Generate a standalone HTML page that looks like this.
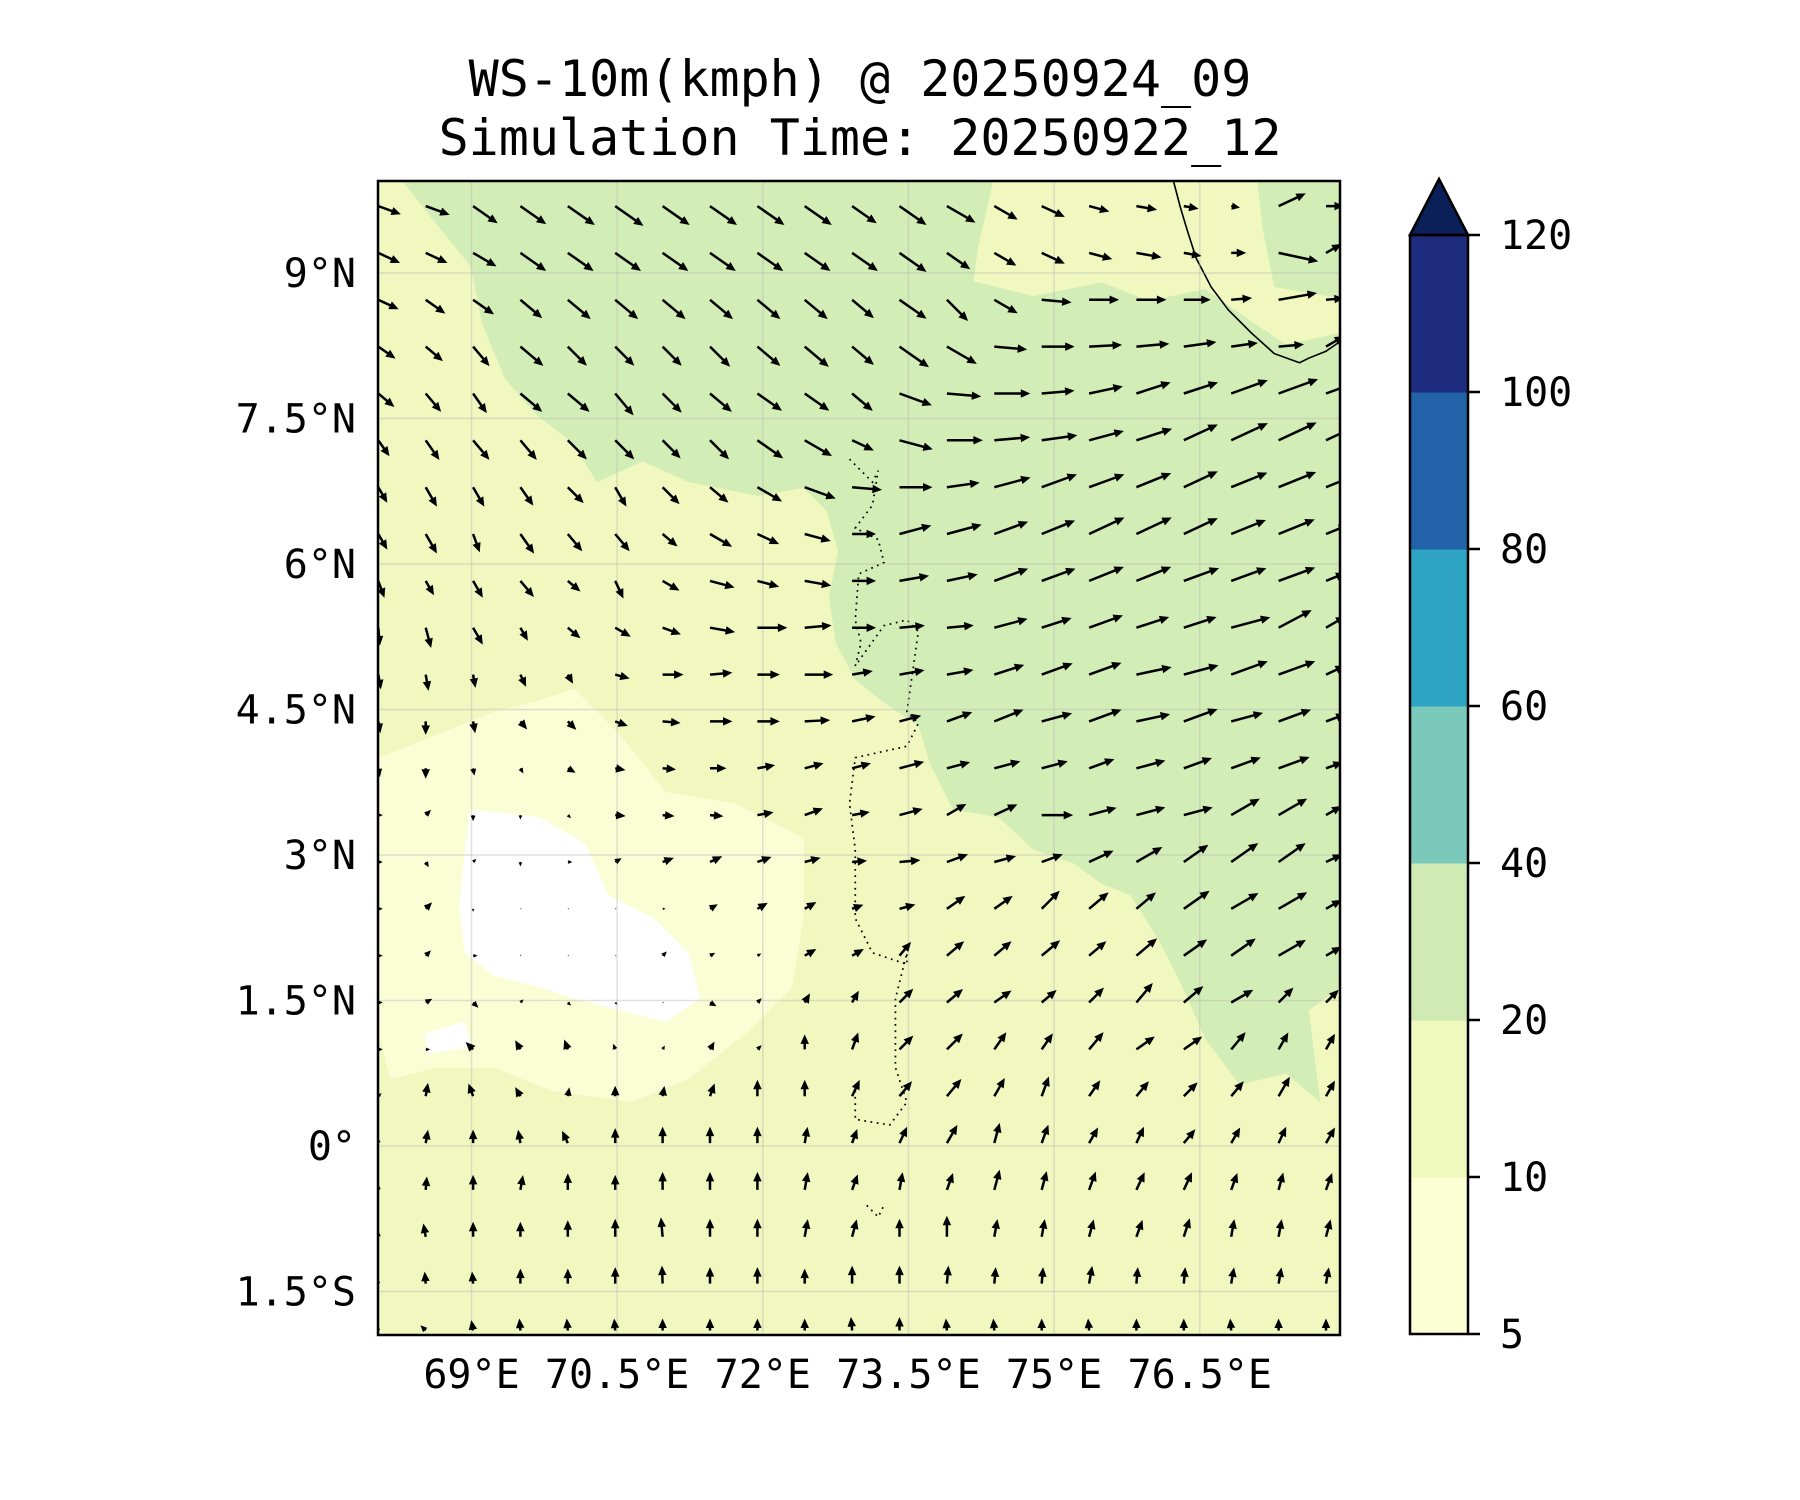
<!DOCTYPE html>
<html><head><meta charset="utf-8"><style>
html,body{margin:0;padding:0;background:#fff}
svg{display:block}
text{font-family:"DejaVu Sans Mono","Liberation Mono",monospace;fill:#000}
</style></head><body>
<svg id="chart" width="1800" height="1500" viewBox="0 0 1800 1500" xmlns="http://www.w3.org/2000/svg">
<defs><clipPath id="pc"><rect x="378" y="181" width="962" height="1154"/></clipPath></defs>
<text x="860" y="96" font-size="50" text-anchor="middle">WS-10m(kmph) @ 20250924_09</text>
<text x="860" y="155" font-size="50" text-anchor="middle">Simulation Time: 20250922_12</text>
<g clip-path="url(#pc)">
 <rect x="378" y="181" width="962" height="1154" fill="#f0f8bf"/>
 <g transform="scale(1.148)">
  <path fill="#d2edb5" d="M350,157 L865,157 L858,190 L852,215 L848,245 L900,258 L960,246 L1000,262 L1050,252 L1090,280 L1120,300 L1168,290 L1168,860 L1140,880 L1150,960 L1120,935 L1080,945 L1050,905 L1030,860 L1010,820 L985,780 L960,770 L935,752 L900,740 L870,712 L830,705 L810,665 L800,632 L770,612 L745,592 L728,560 L722,520 L730,480 L720,445 L700,425 L660,432 L600,420 L560,402 L520,420 L498,385 L468,362 L440,330 L420,282 L410,232 L380,195 Z"/>
  <path fill="#d2edb5" d="M1095,157 L1168,157 L1168,260 L1110,250 L1100,200 Z"/>
  <path fill="#fafed5" d="M330,660 L380,640 L430,620 L470,610 L500,600 L540,640 L580,690 L640,700 L700,730 L700,800 L690,860 L650,900 L600,940 L550,960 L480,950 L430,930 L380,930 L340,940 L330,900 Z"/>
  <path fill="#ffffff" d="M410,705 L470,712 L510,735 L530,780 L570,800 L600,830 L610,870 L580,890 L540,880 L500,870 L470,860 L430,850 L405,830 L400,790 L405,740 Z"/>
  <path fill="#ffffff" d="M370,900 L405,890 L410,912 L372,918 Z"/>
  <path fill="none" stroke="#000" stroke-width="1.4" d="M1022,157 L1028,180 L1034,200 L1042,225 L1055,250 L1070,270 L1090,290 L1110,308 L1132,316 L1140,312 L1155,306 L1168,297"/>
  <path fill="none" stroke="#000" stroke-width="1.5" stroke-dasharray="1.5 4" d="M740,400 L760,420 L765,410 L760,440 L745,460 L765,470 L770,490 L748,500 L745,540 L750,560 L745,580 L770,545 L790,540 L800,550 L790,620 L800,630 L790,650 L745,660 L740,700 L745,740 L745,800 L760,830 L790,840 L790,830 L780,870 L780,930 L790,960 L775,980 L745,975 L745,950 M755,1050 L765,1060 L770,1050"/>
 </g>
 <g id="grid" stroke="#bbb" stroke-opacity="0.45" stroke-width="1.5"></g>
 <g id="arrows"></g>
</g>
<rect x="378" y="181" width="962" height="1154" fill="none" stroke="#000" stroke-width="2.5"/>
<g id="xlabels"></g>
<g id="ylabels"></g>
<g id="cbar"></g>
</svg>
<script>
const lonTicks=[69,70.5,72,73.5,75,76.5];
const lonLabels=["69°E","70.5°E","72°E","73.5°E","75°E","76.5°E"];
const latTicks=[9,7.5,6,4.5,3,1.5,0,-1.5];
const latLabels=["9°N","7.5°N","6°N","4.5°N","3°N","1.5°N","0°","1.5°S"];
const levels=[5,10,20,40,60,80,100,120];
const levelColors=["#fcfed3","#eff8bd","#cfeab3","#7bc9bb","#2fa3c4","#2262a8","#1d2c7e"];
const extendColor="#0b1f58";
const D=[
[-20,-20,-35,-35,-35,-35,-35,-35,-35,-35,-35,-35,-30,-30,-25,-15,-10,-10,-10,25,0],
[-25,-25,-30,-35,-35,-35,-35,-35,-35,-35,-35,-35,-35,-30,-25,-15,-10,-10,0,-12,30],
[-25,-35,-35,-40,-40,-40,-40,-40,-40,-40,-40,-35,-45,-30,-5,0,0,0,5,10,5],
[-35,-40,-50,-40,-45,-45,-45,-45,-40,-40,-40,-35,-30,-5,0,3,5,8,8,5,30],
[-40,-50,-55,-40,-40,-50,-45,-40,-35,-35,-40,-20,-5,0,5,12,18,18,20,20,20],
[-55,-55,-50,-50,-45,-45,-45,-45,-35,-30,-25,-15,0,5,8,15,18,25,25,25,25],
[-60,-60,-60,-55,-45,-60,-45,-40,-30,-20,-5,0,8,15,20,20,22,25,22,22,22],
[-60,-60,-70,-55,-50,-50,-40,-30,-25,-15,0,15,15,20,22,25,25,25,22,22,22],
[-70,-60,-60,-50,-40,-65,-30,-15,-15,-10,0,10,12,20,20,22,22,20,20,20,22],
[-85,-75,-60,-60,-40,-30,-20,-10,0,5,0,5,5,15,18,20,18,18,15,28,30],
[-80,-80,-80,-65,-60,-15,0,5,0,0,10,10,10,18,20,20,12,15,20,20,25],
[-80,-90,-80,-50,-45,-20,-5,0,0,3,12,15,20,22,15,20,12,20,15,20,20],
[-80,-90,-80,-60,-30,-10,-5,0,10,15,15,15,15,15,15,20,15,20,20,20,20],
[0,45,-90,-90,-45,-5,-5,-5,10,20,10,15,30,25,0,15,15,15,30,30,30],
[0,-60,45,-90,0,30,20,25,20,15,5,5,20,15,20,25,30,35,35,35,25],
[0,45,-90,0,0,0,0,30,30,30,20,15,35,35,45,40,40,35,30,30,30],
[0,45,0,45,0,0,45,30,30,30,30,50,40,40,40,40,40,35,35,30,30],
[0,30,-45,45,-45,-45,0,-30,45,60,60,45,40,35,40,45,50,40,30,45,45],
[0,0,135,120,110,110,60,60,45,90,70,45,45,55,55,50,35,35,50,60,60],
[45,80,110,120,80,90,80,70,90,90,65,50,50,60,70,55,50,45,50,60,60],
[100,80,90,100,115,90,90,90,90,80,70,65,60,75,70,60,65,50,60,65,60],
[90,85,90,80,90,90,90,90,90,80,70,80,70,75,75,70,65,65,70,75,70],
[90,100,90,90,90,90,95,90,90,80,75,90,90,80,80,75,70,72,80,80,75],
[90,95,95,90,90,90,92,90,90,90,90,90,85,85,85,80,85,85,80,80,80],
[90,135,100,95,95,95,90,90,90,90,95,90,95,95,90,95,90,90,95,90,90]];
const S=[
[16,17,20,21,22,23,22,22,22,22,20,22,22,18,17,14,14,10,6,20,12],
[16,16,18,21,21,21,21,21,21,21,21,22,19,17,17,16,17,12,10,27,12],
[15,16,17,19,20,20,20,20,20,20,19,22,20,18,20,20,20,18,14,26,12],
[14,15,17,20,18,18,18,19,20,21,19,24,23,22,22,22,22,22,18,17,14],
[14,16,16,19,19,19,18,19,20,20,18,23,23,24,22,23,24,24,26,28,18],
[13,16,17,17,18,18,17,18,21,21,16,23,24,24,24,24,25,25,27,28,18],
[12,15,15,15,15,15,16,16,19,22,20,22,22,25,25,25,25,25,26,27,18],
[12,15,13,16,15,15,13,17,16,18,16,22,24,24,24,26,26,25,25,26,16],
[12,11,13,14,11,13,13,17,15,18,16,20,21,24,24,25,25,25,25,26,14],
[12,14,13,10,11,12,13,17,20,18,16,17,18,23,21,24,23,23,27,25,15],
[10,11,9,9,7,10,14,15,15,19,14,17,18,21,22,23,24,24,26,26,14],
[8,9,8,7,8,9,12,15,15,17,16,15,18,21,21,23,23,24,22,23,14],
[6,7,5,4,6,7,9,11,12,13,13,17,16,18,18,18,20,20,21,22,12],
[3,5,4,3,3,7,8,9,11,13,12,16,15,17,21,19,20,20,22,22,12],
[3,4,3,3,3,5,8,9,10,11,10,14,15,15,15,18,20,20,22,22,12],
[3,6,2,1,1,1,2,6,8,9,8,11,15,15,17,17,17,21,21,22,12],
[3,5,3,1,1,1,4,4,3,9,9,12,15,15,16,15,18,19,20,21,12],
[3,5,5,3,3,2,1,5,4,7,9,13,14,14,13,14,17,17,17,14,12],
[3,3,7,7,7,4,3,6,4,10,12,13,15,14,13,15,15,15,15,13,12],
[3,9,9,7,6,7,7,9,11,11,12,13,15,14,14,13,13,13,13,15,12],
[4,9,9,9,9,10,11,11,11,11,10,12,14,14,13,12,12,12,12,12,12],
[4,9,10,10,11,10,12,12,12,12,11,12,12,14,13,13,13,13,12,12,12],
[4,9,10,10,11,12,13,12,12,12,12,12,14,12,12,12,12,13,12,12,12],
[3,8,8,10,10,11,12,11,11,10,12,12,12,11,11,12,11,11,11,11,11],
[3,5,7,8,8,8,8,8,8,8,9,9,8,8,8,8,8,8,8,8,8]];
const NS="http://www.w3.org/2000/svg";
const lon0=68.04, lonStep=0.488, lat0=9.69, latStep=0.483;
function xOf(lon){return 471.5+(lon-69)*97.1;}
function yOf(lat){return 1146-lat*97;}
function mk(tag,attrs,parent){const e=document.createElementNS(NS,tag);for(const k in attrs)e.setAttribute(k,attrs[k]);parent.appendChild(e);return e;}
const grid=document.getElementById('grid');
lonTicks.forEach(v=>{const l=mk('line',{x1:xOf(v),x2:xOf(v),y1:181,y2:1335},grid);

});
latTicks.forEach(v=>{const l=mk('line',{x1:378,x2:1340,y1:yOf(v),y2:yOf(v)},grid);

});
const xl=document.getElementById('xlabels');
lonTicks.forEach((v,i)=>{const t=mk('text',{x:xOf(v),y:1388,'font-size':40,'text-anchor':'middle'},xl);t.textContent=lonLabels[i];

});
const yl=document.getElementById('ylabels');
latTicks.forEach((v,i)=>{const t=mk('text',{x:356,y:yOf(v)+14,'font-size':40,'text-anchor':'end'},yl);t.textContent=latLabels[i];

});
const ar=document.getElementById('arrows');
const K=1.5, sw=2.5, hw=8.5, hl=9.5;
for(let r=0;r<D.length;r++){for(let c=0;c<D[r].length;c++){
 const x=xOf(lon0+c*lonStep), y=yOf(lat0-r*latStep);
 const L=S[r][c]*K; let h=hl, w=hw, s=sw;
 if(L<hl*1.1){const f=L/(hl*1.1);h*=f;w*=f;s*=f;}
 const p=`0,${-s/2} ${L-h},${-s/2} ${L-h},${-w/2} ${L},0 ${L-h},${w/2} ${L-h},${s/2} 0,${s/2}`;
 const a=mk('polygon',{points:p,fill:'#000',transform:`translate(${x.toFixed(1)},${y.toFixed(1)}) rotate(${-D[r][c]})`},ar);
 
 
}}
const cb=document.getElementById('cbar');
const cx=1410,cw=58,ctop=235,cbot=1334,seg=(cbot-ctop)/(levels.length-1);
levelColors.forEach((col,i)=>{const rr=mk('rect',{x:cx,y:cbot-(i+1)*seg,width:cw,height:seg+0.5,fill:col},cb);

});
const tri=mk('polygon',{points:`${cx},${ctop} ${cx+cw/2},179 ${cx+cw},${ctop}`,fill:extendColor,stroke:'#000','stroke-width':2.5},cb);


const fr=mk('rect',{x:cx,y:ctop,width:cw,height:cbot-ctop,fill:'none',stroke:'#000','stroke-width':2.5},cb);


levels.forEach((v,i)=>{const y=cbot-i*seg;
 const tk=mk('line',{x1:cx+cw,x2:cx+cw+12,y1:y,y2:y,stroke:'#000','stroke-width':2.5},cb);
 
 
 const t=mk('text',{x:1500,y:y+14,'font-size':40},cb);t.textContent=v;
 
 });
</script>
</body></html>
